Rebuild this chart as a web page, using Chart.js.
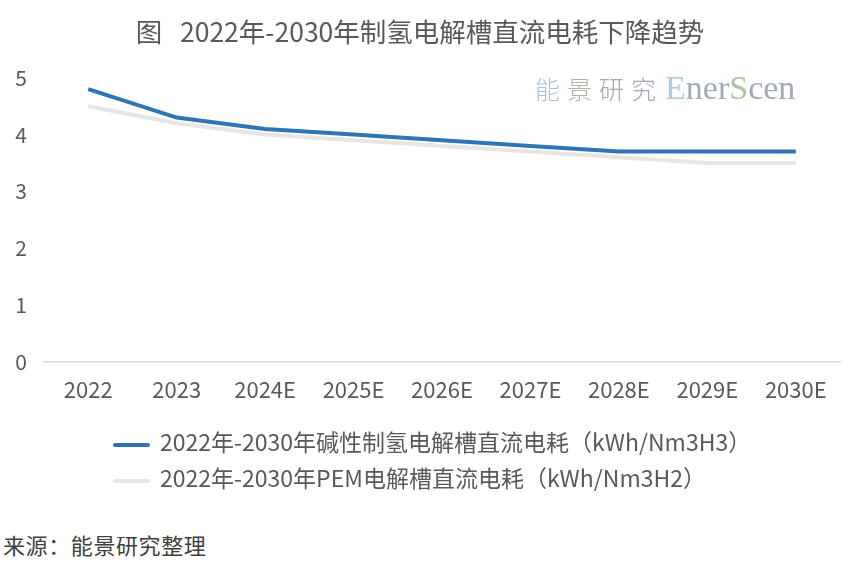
<!DOCTYPE html>
<html>
<head>
<meta charset="utf-8">
<script src="https://cdn.jsdelivr.net/npm/chart.js@4.4.1/dist/chart.umd.min.js"></script>
<style>
  body { margin: 0; background: #fff; font-family: "Noto Sans CJK SC", "Noto Sans", sans-serif; }
  #wrap { position: relative; width: 860px; height: 578px; overflow: hidden; }
  #chart { position: absolute; left: 0; top: 0; }
  .legend { position: absolute; left: 113px; top: 423px; font-size: 23px; color: #595959; }
  .legend .row { height: 36px; line-height: 36px; white-space: nowrap; }
  .legend .swatch { display: inline-block; width: 37px; height: 4px; border-radius: 2px; vertical-align: middle; margin-right: 10px; }
  .source { position: absolute; left: 3px; top: 528px; font-size: 22px; letter-spacing: 0.6px; color: #404040; }
  .mark { position: absolute; left: 535px; top: 69px; white-space: nowrap; }
  .mark .cn { font-family: "Noto Sans CJK SC"; font-weight: 300; font-size: 25px; letter-spacing: 7px; }
  .mark .en { font-family: "Liberation Serif", "DejaVu Serif", serif; font-size: 34px; margin-left: 2px; }
</style>
</head>
<body>
<div id="wrap">
  <canvas id="chart" width="860" height="427"></canvas>
  <div class="mark"><span class="cn"><span style="color:#a6bfdb">能</span><span style="color:#a9b7a4">景</span><span style="color:#9fa8b5">研究</span></span><span class="en"><span style="color:#b2cae2">E</span><span style="color:#a0aab8">ner</span><span style="color:#a9c59b">S</span><span style="color:#a0aab8">cen</span></span></div>
  <div class="legend" id="legend"></div>
  <div class="source">来源：能景研究整理</div>
</div>
<script>
const years = ["2022", "2023", "2024E", "2025E", "2026E", "2027E", "2028E", "2029E", "2030E"]
const alkaline = [4.8, 4.3, 4.1, 4.0, 3.9, 3.8, 3.7, 3.7, 3.7]
const pem = [4.5, 4.2, 4.0, 3.9, 3.8, 3.7, 3.6, 3.5, 3.5]
const seriesNames = [
  "2022年-2030年碱性制氢电解槽直流电耗（kWh/Nm3H3）",
  "2022年-2030年PEM电解槽直流电耗（kWh/Nm3H2）"
]
const seriesColors = ["#2e75b6", "#e6e6e6"]
const titleText = "图   2022年-2030年制氢电解槽直流电耗下降趋势"

const fontFamily = '"Noto Sans CJK SC", "Noto Sans", sans-serif'
const textColor = "#595959"

const ctx = document.getElementById("chart").getContext("2d")
const myChart = new Chart(ctx, {
  type: "line",
  data: {
    labels: years,
    datasets: [
      // PEM drawn underneath the blue line
      {
        label: seriesNames[1],
        data: pem,
        borderColor: seriesColors[1],
        borderWidth: 4,
        pointRadius: 0,
        tension: 0,
        order: 2
      },
      {
        label: seriesNames[0],
        data: alkaline,
        borderColor: seriesColors[0],
        borderWidth: 4,
        pointRadius: 0,
        tension: 0,
        order: 1
      }
    ]
  },
  options: {
    responsive: false,
    animation: false,
    layout: { padding: { left: 0, right: 20, top: 0, bottom: 9 } },
    plugins: {
      legend: { display: false },
      tooltip: { enabled: false },
      title: {
        display: true,
        text: titleText,
        color: textColor,
        font: { family: fontFamily, size: 26.5, weight: "normal" },
        padding: { top: 16, bottom: 30 }
      }
    },
    scales: {
      x: {
        offset: true,
        grid: { display: false, drawTicks: false },
        border: { display: true, color: "#d9d9d9", width: 1.5 },
        ticks: { color: textColor, font: { family: fontFamily, size: 22 }, padding: 15, maxRotation: 0 }
      },
      y: {
        min: 0,
        max: 5,
        grid: { display: false, drawTicks: false },
        border: { display: false },
        ticks: { stepSize: 1, color: textColor, font: { family: fontFamily, size: 21 }, padding: 17 },
        afterFit: (scale) => { scale.width = 44 }
      }
    }
  }
})

// legend rows from the series arrays
const legendBox = document.getElementById("legend")
seriesNames.forEach((name, i) => {
  const row = document.createElement("div")
  row.className = "row"
  row.innerHTML = '<span class="swatch" style="background:' + seriesColors[i] + '"></span>' + name
  legendBox.appendChild(row)
})
</script>
</body>
</html>
